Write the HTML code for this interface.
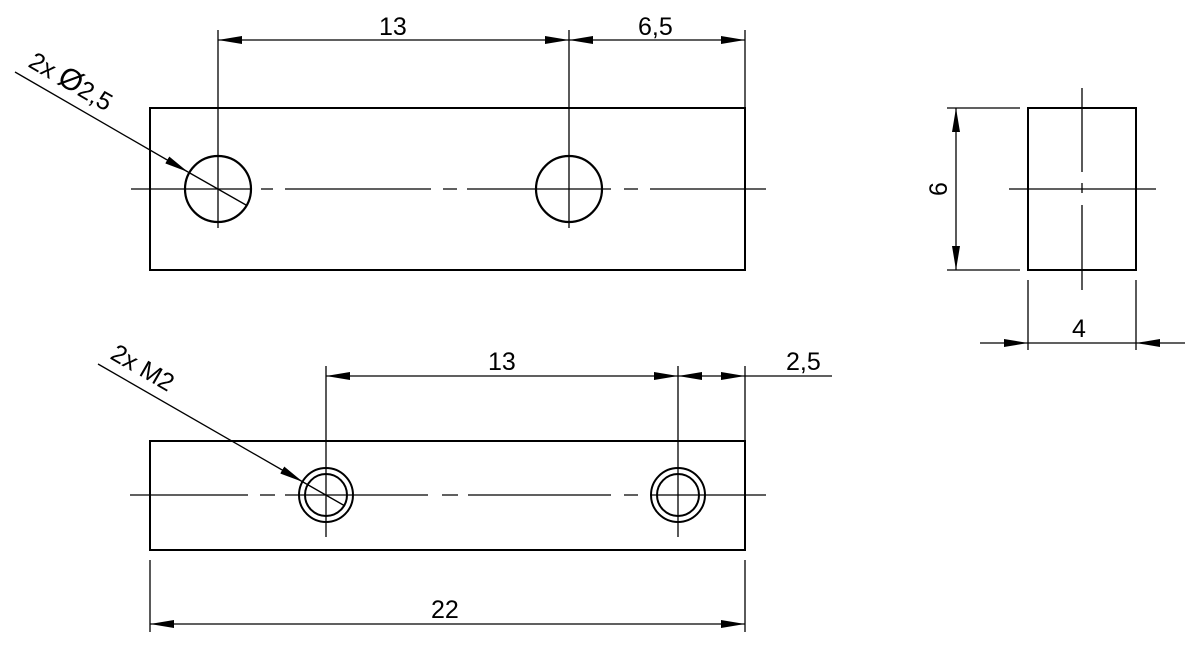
<!DOCTYPE html>
<html><head><meta charset="utf-8"><style>
html,body{margin:0;padding:0;background:#fff;}
svg{display:block;}
text{font-family:"Liberation Sans",Arial,sans-serif;font-size:25px;fill:#000;}
</style></head><body>
<svg width="1200" height="648" viewBox="0 0 1200 648" xmlns="http://www.w3.org/2000/svg">
<defs>
<marker id="a" viewBox="0 0 24 8" refX="24" refY="4" markerWidth="24" markerHeight="8" markerUnits="userSpaceOnUse" orient="auto-start-reverse"><path d="M0,0 L24,4 L0,8 Z" fill="#000"/></marker>
</defs>
<g stroke="#000" fill="none">
<rect x="150" y="108" width="595" height="162" stroke-width="2"/>
<circle cx="218" cy="189" r="33" stroke-width="2.2"/>
<circle cx="569" cy="189" r="33" stroke-width="2.2"/>
<g stroke-width="1.3">
<path d="M131,189H251 M261,189H273 M285,189H431 M443,189H457 M467,189H611 M624,189H638 M650,189H766"/>
<line x1="218" y1="30" x2="218" y2="228"/>
<line x1="569" y1="30" x2="569" y2="228"/>
<line x1="745" y1="30" x2="745" y2="108"/>
<line x1="218" y1="40" x2="569" y2="40" marker-start="url(#a)" marker-end="url(#a)"/>
<line x1="569" y1="40" x2="745" y2="40" marker-start="url(#a)" marker-end="url(#a)"/>
<line x1="15" y1="72" x2="188" y2="172" marker-end="url(#a)"/>
<line x1="188" y1="172" x2="246" y2="205"/>
</g>
<rect x="150" y="441" width="595" height="109" stroke-width="2"/>
<circle cx="326" cy="495" r="27" stroke-width="2"/>
<circle cx="326" cy="495" r="21" stroke-width="2"/>
<circle cx="678" cy="495" r="27" stroke-width="2"/>
<circle cx="678" cy="495" r="21" stroke-width="2"/>
<g stroke-width="1.3">
<path d="M130,495H248 M260,495H275 M285,495H428 M442,495H458 M468,495H611 M624,495H638 M650,495H766"/>
<line x1="326" y1="366" x2="326" y2="537"/>
<line x1="678" y1="366" x2="678" y2="537"/>
<line x1="745" y1="366" x2="745" y2="441"/>
<line x1="326" y1="376" x2="678" y2="376" marker-start="url(#a)" marker-end="url(#a)"/>
<line x1="702" y1="376" x2="678" y2="376" marker-end="url(#a)"/>
<line x1="700" y1="376" x2="745" y2="376" marker-end="url(#a)"/>
<line x1="745" y1="376" x2="832" y2="376"/>
<line x1="98" y1="364" x2="303" y2="482" marker-end="url(#a)"/>
<line x1="303" y1="482" x2="345" y2="506"/>
<line x1="150" y1="560" x2="150" y2="632"/>
<line x1="745" y1="560" x2="745" y2="632"/>
<line x1="150" y1="624" x2="745" y2="624" marker-start="url(#a)" marker-end="url(#a)"/>
</g>
<rect x="1028" y="108" width="108" height="162" stroke-width="2"/>
<g stroke-width="1.3">
<path d="M1082,88V172 M1082,183V193 M1082,205V290"/>
<line x1="1009" y1="189" x2="1156" y2="189"/>
<line x1="947" y1="108" x2="1020" y2="108"/>
<line x1="947" y1="270" x2="1020" y2="270"/>
<line x1="956" y1="108" x2="956" y2="270" marker-start="url(#a)" marker-end="url(#a)"/>
<line x1="1028" y1="280" x2="1028" y2="350"/>
<line x1="1136" y1="280" x2="1136" y2="350"/>
<line x1="980" y1="343" x2="1028" y2="343" marker-end="url(#a)"/>
<line x1="1028" y1="343" x2="1136" y2="343"/>
<line x1="1185" y1="343" x2="1136" y2="343" marker-end="url(#a)"/>
</g>
</g>
<text x="379" y="35">13</text>
<text x="638" y="35">6,5</text>
<text x="488" y="370">13</text>
<text x="786" y="370">2,5</text>
<text x="431" y="618">22</text>
<text x="1072" y="337">4</text>
<text transform="translate(947,189) rotate(-90)" text-anchor="middle">6</text>
<text transform="translate(27,66) rotate(30)">2x <tspan font-size="30">Ø</tspan>2,5</text>
<text transform="translate(109,358) rotate(30)">2x M2</text>
</svg>
</body></html>
